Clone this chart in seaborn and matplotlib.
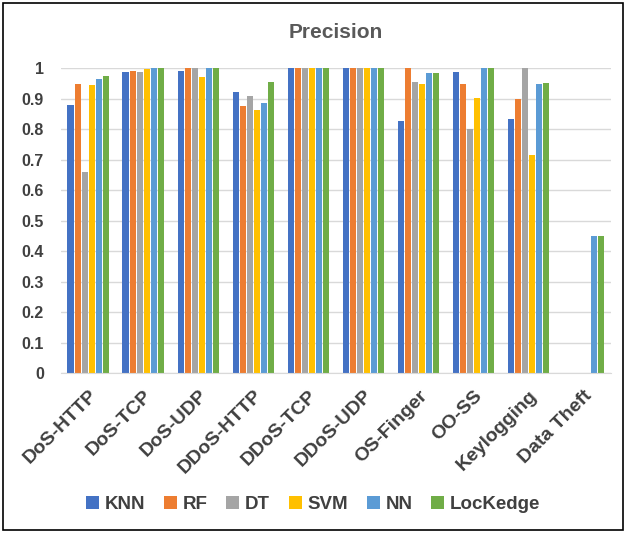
import numpy as np
import pandas as pd
import matplotlib.pyplot as plt
import seaborn as sns
from matplotlib.patches import Rectangle

# categories and models
attacks = ["DoS-HTTP", "DoS-TCP", "DoS-UDP", "DDoS-HTTP", "DDoS-TCP",
           "DDoS-UDP", "OS-Finger", "OO-SS", "Keylogging", "Data Theft"]
models = ["KNN", "RF", "DT", "SVM", "NN", "LocKedge"]

# precision values
knn = [0.879, 0.988, 0.992, 0.922, 1.0, 1.0, 0.827, 0.989, 0.833, 0.0]
rf = [0.948, 0.991, 1.0, 0.875, 1.0, 1.0, 1.0, 0.949, 0.899, 0.0]
dt = [0.659, 0.988, 1.0, 0.910, 1.0, 1.0, 0.955, 0.800, 1.0, 0.0]
svm = [0.945, 0.996, 0.970, 0.863, 1.0, 1.0, 0.948, 0.901, 0.714, 0.0]
nn = [0.964, 1.0, 1.0, 0.886, 1.0, 1.0, 0.985, 1.0, 0.949, 0.449]
lockedge = [0.973, 1.0, 1.0, 0.956, 1.0, 1.0, 0.984, 1.0, 0.951, 0.449]

colors = ["#4472C4", "#ED7D31", "#A5A5A5", "#FFC000", "#5B9BD5", "#70AD47"]

rows = []
for name, vals in zip(models, [knn, rf, dt, svm, nn, lockedge]):
    for a, v in zip(attacks, vals):
        rows.append({"Attack": a, "Model": name, "Precision": v})
df = pd.DataFrame(rows)

sns.set_style("white")
plt.rcParams['font.family'] = ['Liberation Sans', 'DejaVu Sans']

fig = plt.figure(figsize=(6.26, 5.33), dpi=100)
ax = fig.add_axes([0.097, 0.300, 0.879, 0.572])

sns.barplot(data=df, x="Attack", y="Precision", hue="Model", palette=colors,
            width=0.77, gap=0.12, saturation=1, linewidth=0, ax=ax, legend=True)

ax.set_ylim(0, 1.0)
ax.set_yticks(np.arange(0, 1.01, 0.1))
ax.set_yticklabels(["0", "0.1", "0.2", "0.3", "0.4", "0.5", "0.6", "0.7", "0.8", "0.9", "1"],
                   fontsize=11.5, fontweight="bold", color="#404040")
ax.yaxis.grid(True, color="#D9D9D9", linewidth=1)
ax.set_axisbelow(True)
ax.tick_params(axis="both", length=0)
ax.tick_params(axis="y", pad=12)

ax.set_xticks(range(len(attacks)))
ax.set_xticklabels(attacks, rotation=45, ha="right", rotation_mode="anchor",
                   fontsize=14, fontweight="bold", color="#404040")
ax.tick_params(axis="x", pad=10)
ax.set_xlabel("")
ax.set_ylabel("")
for s in ["top", "right", "left"]:
    ax.spines[s].set_visible(False)
ax.spines["bottom"].set_color("#D9D9D9")
ax.set_xlim(-0.5, len(attacks) - 0.5)

ax.set_title("Precision", fontsize=15, fontweight="bold", color="#595959", pad=22)

handles, labels = ax.get_legend_handles_labels()
ax.legend_.remove()
fig.legend(handles, labels, loc="center", bbox_to_anchor=(0.5, 0.053), ncol=6,
           frameon=False, handlelength=0.7, handleheight=0.7, handletextpad=0.3,
           columnspacing=1.0, prop={"weight": "bold", "size": 13.5})
for t in fig.legends[0].get_texts():
    t.set_color("#404040")

fig.patches.append(Rectangle((0.005, 0.006), 0.99, 0.988, transform=fig.transFigure,
                             fill=False, edgecolor="black", linewidth=1.2))

fig.savefig("out.png", dpi=100)
